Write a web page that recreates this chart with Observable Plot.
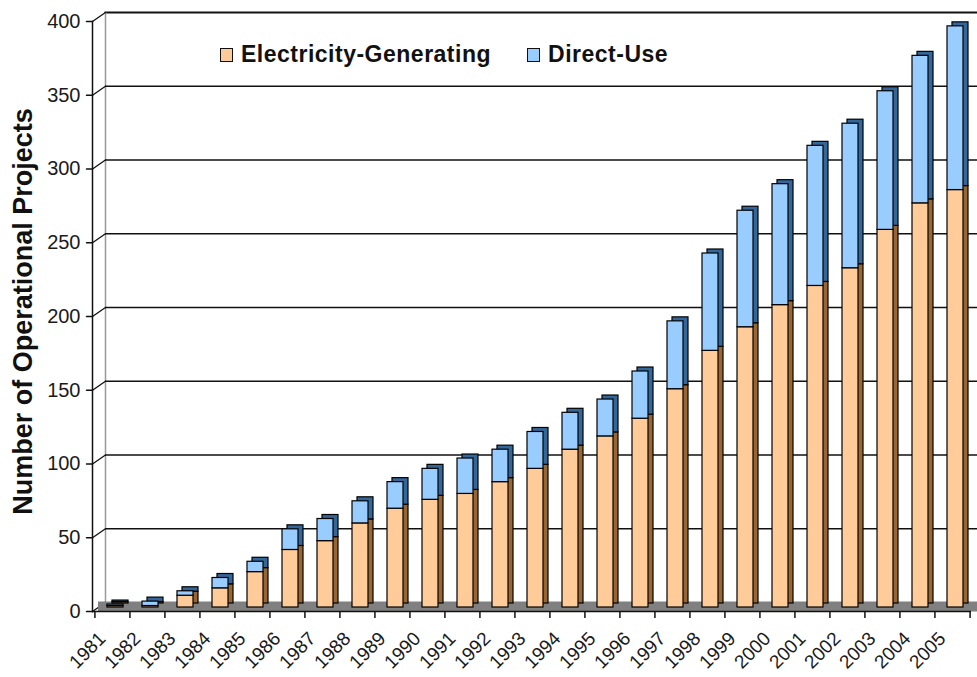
<!DOCTYPE html>
<html><head><meta charset="utf-8">
<script src="https://cdn.jsdelivr.net/npm/d3@7"></script>
<script src="https://cdn.jsdelivr.net/npm/@observablehq/plot@0.6"></script>
<style>
body{margin:0;background:#fff;}
#wrap{position:relative;width:977px;height:677px;overflow:hidden;font-family:"Liberation Sans",Arial,sans-serif;background:#fff;}
#legend{position:absolute;left:220px;top:41px;display:flex;align-items:center;font-weight:bold;font-size:23px;letter-spacing:0.5px;color:#111;white-space:nowrap;}
.sw{width:11px;height:12px;border:1.5px solid #111;display:inline-block;margin-right:8px;}
.item{display:flex;align-items:center;}
</style></head><body>
<div id="wrap"><div id="legend"></div></div>
<script>
const years = ["1981","1982","1983","1984","1985","1986","1987","1988","1989","1990","1991","1992","1993","1994","1995","1996","1997","1998","1999","2000","2001","2002","2003","2004","2005"];
const electricity = [1,1,8,13,24,39,45,57,67,73,77,85,94,107,116,128,148,174,190,205,218,230,256,274,283];
const directUse = [1,3,3,7,7,14,15,15,18,21,24,22,25,25,25,32,46,66,79,82,95,98,94,100,111];
const seriesNames = ["Electricity-Generating","Direct-Use"];
const seriesFront = ["#FFCC99","#99CCFF"];
const seriesSide = ["#996633","#336699"];
const yTicks = [0,50,100,150,200,250,300,350,400];
const yLabel = "Number of Operational Projects";

const elecRows = years.map((yr,i)=>({year:yr, y1:0, y2:electricity[i]}));
const directRows = years.map((yr,i)=>({year:yr, y1:electricity[i], y2:electricity[i]+directUse[i]}));

const W = 977, H = 677, mL = 92, mR = 6, mT = 21, mB = 66;
const step = (W - mL - mR) / years.length;
const lineShape = {draw(context, l){ context.moveTo(0,0); context.lineTo(0,-l); }};

const chart = Plot.plot({
  width: W, height: H, marginTop: mT, marginBottom: mB, marginLeft: mL, marginRight: mR,
  style: {fontFamily: '"Liberation Sans", Arial, sans-serif', fontSize: "20px", background: "white", color: "#1a1a1a", overflow: "hidden"},
  x: {type: "band", domain: years, paddingInner: 0.545, paddingOuter: 0.2725, axis: null},
  y: {domain: [0, 400], axis: null},
  marks: [
    Plot.frame({anchor: "top", dx: 13, dy: -9, stroke: "#111", strokeWidth: 2}),
    Plot.frame({anchor: "left", dx: 13, dy: -9, stroke: "#999", strokeWidth: 1.5}),
    Plot.ruleY(yTicks.filter(v => v > 0 && v < 400), {y: d => d, dx: 13, dy: -9, stroke: "#111", strokeWidth: 1.6}),
    Plot.vector(yTicks, {y: d => d, frameAnchor: "left", rotate: 55, length: 15.8, anchor: "start", shape: lineShape, stroke: "#111", strokeWidth: 1.3}),
    Plot.ruleY([0], {y: d => d, stroke: "#808080", strokeWidth: 10, dy: -5, dx: 6}),
    Plot.barY(elecRows, {x: "year", y1: "y1", y2: "y2", fill: seriesSide[0], stroke: "#000", strokeWidth: 1.2, dx: 8, dy: -8}),
    Plot.barY(elecRows, {x: "year", y1: "y1", y2: "y2", fill: seriesFront[0], stroke: "#000", strokeWidth: 1.2, dx: 3, dy: -4}),
    Plot.barY(directRows, {x: "year", y1: "y1", y2: "y2", fill: seriesSide[1], stroke: "#000", strokeWidth: 1.2, dx: 8, dy: -8}),
    Plot.barY(directRows, {x: "year", y1: "y1", y2: "y2", fill: seriesFront[1], stroke: "#000", strokeWidth: 1.2, dx: 3, dy: -4}),
    Plot.frame({anchor: "left", stroke: "#111", strokeWidth: 1.5}),
    Plot.ruleY([0], {y: d => d, stroke: "#111", strokeWidth: 1.5}),
    Plot.ruleX(years, {x: d => d, y1: 0, y2: 0, insetBottom: -7, dx: -step/2, stroke: "#111", strokeWidth: 1.5}),
    Plot.ruleX(years.slice(-1), {x: d => d, y1: 0, y2: 0, insetBottom: -7, dx: step/2, stroke: "#111", strokeWidth: 1.5}),
    Plot.vector(yTicks, {y: d => d, frameAnchor: "left", rotate: -90, length: 6, anchor: "start", shape: lineShape, stroke: "#111", strokeWidth: 1.5}),
    Plot.text(yTicks, {y: d => d, text: d => String(d), frameAnchor: "left", dx: -12, textAnchor: "end", lineAnchor: "middle", fontSize: 20, fill: "#1a1a1a"}),
    Plot.text(years, {x: d => d, text: d => d, frameAnchor: "bottom", dx: -10, dy: 24, rotate: -45, textAnchor: "end", lineAnchor: "middle", fontSize: 19, fill: "#1a1a1a"}),
    Plot.text([yLabel], {text: d => d, frameAnchor: "left", dx: -69, dy: -5, rotate: -90, textAnchor: "middle", lineAnchor: "middle", fontSize: 27, fontWeight: "bold", fill: "#111"})
  ]
});
const wrap = document.getElementById("wrap");
wrap.insertBefore(chart, wrap.firstChild);

const legend = document.getElementById("legend");
seriesNames.forEach((name, i) => {
  const item = document.createElement("div");
  item.className = "item";
  if (i > 0) item.style.marginLeft = "36px";
  const sw = document.createElement("span");
  sw.className = "sw";
  sw.style.background = seriesFront[i];
  const t = document.createElement("span");
  t.textContent = name;
  item.appendChild(sw); item.appendChild(t);
  legend.appendChild(item);
});
</script>
</body></html>
